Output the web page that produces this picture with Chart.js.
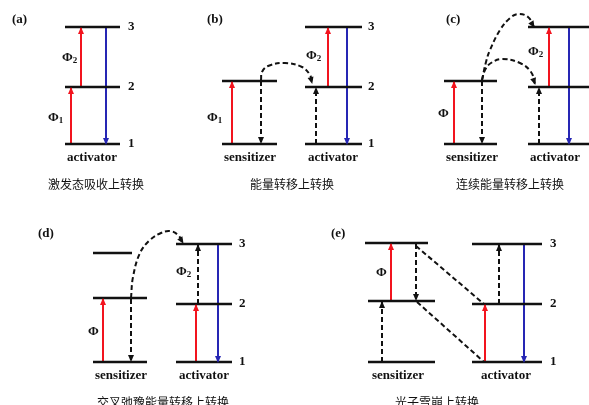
<!DOCTYPE html>
<html>
<head>
<meta charset="utf-8">
<script src="https://cdn.jsdelivr.net/npm/chart.js@4/dist/chart.umd.min.js"></script>
<style>
  html, body { margin: 0; padding: 0; background: #fff; }
  #wrap { width: 589px; height: 405px; }
</style>
</head>
<body>
<div id="wrap"><canvas id="levelChart"></canvas></div>
<script>
// energy levels: [xStart, xEnd, y]
const levels = [
    [65, 120, 27], [65, 120, 87], [65, 120, 144],
    [222, 277, 81], [222, 277, 144], [305, 362, 27], [305, 362, 87], [305, 362, 144],
    [444, 497, 81], [444, 497, 144], [528, 589, 27], [528, 589, 87], [528, 589, 144],
    [93, 132, 253], [93, 147, 298], [93, 147, 362], [176, 232, 244], [176, 232, 304], [176, 232, 362],
    [365, 428, 243], [368, 435, 301], [368, 435, 362], [472, 542, 244], [472, 542, 304], [472, 542, 362]
];

// vertical arrows: [x, yFrom, yTo]
const redArrows = [
    [71, 144, 88], [81, 87, 28], [232, 144, 82], [328, 87, 28], [454, 144, 82], [549, 87, 28],
    [103, 362, 299], [196, 362, 305], [391, 301, 244], [485, 362, 305]
];
const blueArrows = [
    [106, 27, 144], [347, 27, 144], [569, 27, 144], [218, 244, 362], [524, 244, 362]
];
const dashedArrows = [
    [261, 81, 143], [316, 144, 88], [482, 81, 143], [539, 144, 88],
    [131, 299, 361], [198, 304, 245], [416, 244, 300], [382, 362, 302], [499, 304, 245]
];

// energy transfer paths
const transferCurves = [
    [[261, 80], [262, 72], [268, 66], [285, 63], [302, 67], [310, 75], [312, 83]],
    [[482, 80], [485, 70], [491, 63], [502, 59], [520, 63], [531, 72], [535, 84]],
    [[482, 80], [486, 62], [490, 50], [500, 30], [510, 18], [518, 14], [528, 17], [534, 27]],
    [[131, 298], [133, 277], [140, 253], [150, 240], [161, 233], [170, 231], [178, 235], [183, 243]]
];
const transferLines = [
    [[416, 246], [484, 304]],
    [[417, 302], [484, 362]]
];

// text
const panelTags = ['(a)', '(b)', '(c)', '(d)', '(e)'];
const tagPos = [[12, 20], [207, 20], [446, 20], [38, 234], [331, 234]];
const captions = ['激发态吸收上转换', '能量转移上转换', '连续能量转移上转换', '交叉弛豫能量转移上转换', '光子雪崩上转换'];
const captionPos = [[96, 184], [292, 184], [510, 184], [163, 402], [437, 402]];
const ionNames = ['activator', 'sensitizer', 'activator', 'sensitizer', 'activator', 'sensitizer', 'activator', 'sensitizer', 'activator'];
const ionPos = [[92, 158], [250, 158], [333, 158], [472, 158], [555, 158], [121, 376], [204, 376], [398, 376], [506, 376]];
const levelNums = ['3', '2', '1'];
const levelNumX = [128, 368, 591, 239, 550];
const levelNumY = [[27, 87, 144], [27, 87, 144], [27, 87, 144], [244, 304, 362], [244, 304, 362]];
// [subscript, x, y]
const phiLabels = [['2', 62, 58], ['1', 48, 118], ['1', 207, 118], ['2', 306, 56], ['', 438, 114], ['2', 528, 52], ['2', 176, 272], ['', 88, 332], ['', 376, 273]];

const RED = '#f2141e';
const BLUE = '#2626b4';
const BLACK = '#111';

const datasets = [];
levels.forEach(l => datasets.push({
    data: [{ x: l[0], y: l[2] }, { x: l[1], y: l[2] }],
    showLine: true, borderColor: BLACK, borderWidth: 2.6, pointRadius: 0
}));
function addArrows(list, color, dash) {
    list.forEach(a => datasets.push({
        data: [{ x: a[0], y: a[1] }, { x: a[0], y: a[2] }],
        showLine: true, borderColor: color, borderWidth: 2, borderDash: dash, pointRadius: 0, arrow: true
    }));
}
addArrows(redArrows, RED, []);
addArrows(blueArrows, BLUE, []);
addArrows(dashedArrows, BLACK, [5, 3]);
transferCurves.forEach(c => datasets.push({
    data: c.map(p => ({ x: p[0], y: p[1] })),
    showLine: true, borderColor: BLACK, borderWidth: 2, borderDash: [5, 3], pointRadius: 0, tension: 0.4, arrow: true
}));
transferLines.forEach(c => datasets.push({
    data: c.map(p => ({ x: p[0], y: p[1] })),
    showLine: true, borderColor: BLACK, borderWidth: 2, borderDash: [5, 3], pointRadius: 0
}));

// arrow heads at the end of flagged datasets
const arrowHeads = {
    id: 'arrowHeads',
    afterDatasetsDraw(chart) {
        const ctx = chart.ctx;
        chart.data.datasets.forEach((ds, i) => {
            if (!ds.arrow) return;
            const pts = chart.getDatasetMeta(i).data;
            const p1 = pts[pts.length - 2], p2 = pts[pts.length - 1];
            const ang = Math.atan2(p2.y - p1.y, p2.x - p1.x);
            ctx.save();
            ctx.translate(p2.x, p2.y);
            ctx.rotate(ang);
            ctx.fillStyle = ds.borderColor;
            ctx.beginPath();
            ctx.moveTo(1, 0);
            ctx.lineTo(-6, -3);
            ctx.lineTo(-6, 3);
            ctx.closePath();
            ctx.fill();
            ctx.restore();
        });
    }
};

// all the text of the figure
const diagramText = {
    id: 'diagramText',
    afterDraw(chart) {
        const ctx = chart.ctx;
        const sx = v => chart.scales.x.getPixelForValue(v);
        const sy = v => chart.scales.y.getPixelForValue(v);
        ctx.save();
        ctx.fillStyle = BLACK;
        ctx.textBaseline = 'middle';
        ctx.font = 'bold 13px "Liberation Serif", serif';
        ctx.textAlign = 'left';
        panelTags.forEach((t, i) => ctx.fillText(t, sx(tagPos[i][0]), sy(tagPos[i][1])));
        levelNumX.forEach((x, i) => levelNums.forEach((n, j) => ctx.fillText(n, sx(x), sy(levelNumY[i][j]))));
        ctx.textAlign = 'center';
        ionNames.forEach((t, i) => ctx.fillText(t, sx(ionPos[i][0]), sy(ionPos[i][1])));
        ctx.textAlign = 'left';
        phiLabels.forEach(p => {
            ctx.font = 'bold 13px "Liberation Serif", serif';
            ctx.fillText('Φ', sx(p[1]), sy(p[2]));
            const w = ctx.measureText('Φ').width;
            ctx.font = 'bold 9px "Liberation Serif", serif';
            ctx.fillText(p[0], sx(p[1]) + w, sy(p[2]) + 3);
        });
        ctx.font = '12px "Noto Sans CJK SC", sans-serif';
        ctx.textAlign = 'center';
        captions.forEach((t, i) => ctx.fillText(t, sx(captionPos[i][0]), sy(captionPos[i][1])));
        ctx.restore();
    }
};

const ctx = document.getElementById('levelChart').getContext('2d');
const levelChart = new Chart(ctx, {
    type: 'scatter',
    data: { datasets: datasets },
    options: {
        responsive: true,
        maintainAspectRatio: false,
        animation: false,
        layout: { padding: 0 },
        scales: {
            x: { type: 'linear', min: 0, max: 589, display: false },
            y: { type: 'linear', min: 0, max: 405, reverse: true, display: false }
        },
        plugins: {
            legend: { display: false },
            tooltip: { enabled: false }
        }
    },
    plugins: [arrowHeads, diagramText]
});
</script>
</body>
</html>
